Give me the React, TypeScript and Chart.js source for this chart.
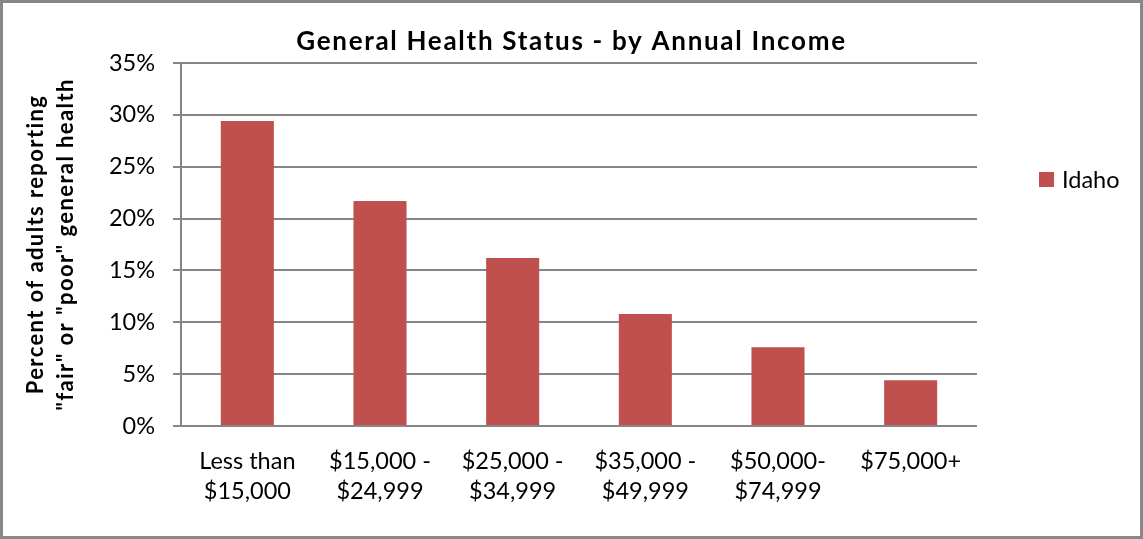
import React, { useEffect, useRef } from "react";
import { Chart, registerables } from "chart.js";

Chart.register(...registerables);

const categories: string[][] = [
  ["Less than", "$15,000"],
  ["$15,000 -", "$24,999"],
  ["$25,000 -", "$34,999"],
  ["$35,000 -", "$49,999"],
  ["$50,000-", "$74,999"],
  ["$75,000+"],
];
const idahoValues: number[] = [29.4, 21.7, 16.2, 10.8, 7.6, 4.4];
const seriesLabel = "Idaho";
const titleText = "General Health Status - by Annual Income";
const yTitleLines = ["Percent of adults reporting", "\"fair\" or \"poor\" general health"];
const yTicks = { min: 0, max: 35, step: 5 };

const FONT = "Lato, 'Open Sans', sans-serif";
const BAR = "#C0504D";
const GRID = "#868686";

function wrapSpacing(obj: any, key: string, spacing: string) {
  if (!obj || obj[`__sp_${key}`]) return;
  const orig = obj[key].bind(obj);
  obj[key] = (...args: any[]) => {
    const ctx = obj.ctx;
    ctx.save();
    ctx.letterSpacing = spacing;
    orig(...args);
    ctx.restore();
  };
  obj[`__sp_${key}`] = true;
}

const spacingPlugin = {
  id: "textSpacing",
  beforeDraw(chart: any) {
    wrapSpacing(chart.titleBlock, "draw", "1.7px");
    wrapSpacing(chart.scales.y, "drawTitle", "1.4px");
  },
};

const legendPlugin = {
  id: "customLegend",
  afterDraw(chart: any) {
    const { ctx, chartArea } = chart;
    const ds = chart.data.datasets[0];
    const x = chartArea.right + 62;
    const yc = chartArea.top + 116.5;
    ctx.save();
    ctx.fillStyle = ds.backgroundColor;
    ctx.fillRect(x, yc - 7.5, 15, 15);
    ctx.fillStyle = "#000";
    ctx.font = `23.5px ${FONT}`;
    ctx.textBaseline = "middle";
    ctx.textAlign = "left";
    ctx.fillText(ds.label, x + 23, yc + 1);
    ctx.restore();
  },
};

export default function App() {
  const ref = useRef<HTMLCanvasElement>(null);
  useEffect(() => {
    if (!ref.current) return;
    const chart = new Chart(ref.current, {
      type: "bar",
      data: {
        labels: categories,
        datasets: [
          {
            label: seriesLabel,
            data: idahoValues,
            backgroundColor: BAR,
            categoryPercentage: 1,
            barPercentage: 0.4,
            yAxisID: "y",
          },
        ],
      },
      options: {
        responsive: false,
        animation: false,
        layout: { padding: 0 },
        plugins: {
          legend: { display: false },
          tooltip: { enabled: false },
          title: {
            display: true,
            text: titleText,
            color: "#000",
            font: { family: FONT, size: 26, weight: "bold", lineHeight: 1.2 },
            padding: { top: 23, bottom: 5.8 },
          },
        },
        scales: {
          x: {
            grid: { display: false, drawTicks: false },
            border: { display: false },
            ticks: {
              color: "#000",
              padding: 20.5,
              maxRotation: 0,
              autoSkip: false,
              font: { family: FONT, size: 23.5, lineHeight: 1.277 },
            },
            afterFit: (s: any) => {
              s.height = 110;
            },
          },
          y: {
            position: "left",
            min: yTicks.min,
            max: yTicks.max,
            ticks: {
              stepSize: yTicks.step,
              color: "#000",
              padding: 18,
              font: { family: FONT, size: 23.5 },
              callback: (v: any) => `${v}%`,
            },
            grid: { color: GRID, lineWidth: 2, tickLength: 8, drawTicks: true },
            border: { display: true, color: GRID, width: 2 },
            title: {
              display: true,
              text: yTitleLines,
              color: "#000",
              font: { family: FONT, size: 22, weight: "bold", lineHeight: 1.364 },
              padding: { top: 18, bottom: 0 },
            },
            afterFit: (s: any) => {
              s.width = 178;
            },
          },
          legendSpace: {
            type: "linear",
            position: "right",
            display: true,
            grid: { display: false, drawTicks: false },
            border: { display: false },
            ticks: { display: false },
            afterFit: (s: any) => {
              s.width = 163;
            },
          },
        },
      },
      plugins: [spacingPlugin, legendPlugin],
    });
    return () => chart.destroy();
  }, []);
  return (
    <div
      style={{
        position: "absolute",
        left: 0,
        top: 0,
        width: 1143,
        height: 539,
        boxSizing: "border-box",
        border: "3px solid #878787",
        background: "#fff",
      }}
    >
      <canvas ref={ref} width={1137} height={533} style={{ display: "block" }} />
    </div>
  );
}
